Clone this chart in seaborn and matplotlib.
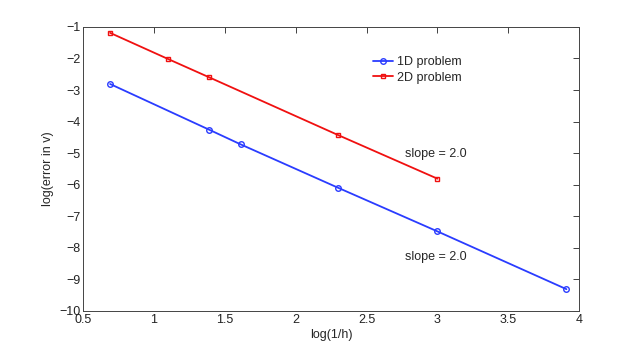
import pandas as pd
import matplotlib
matplotlib.use("Agg")
import matplotlib.pyplot as plt
import seaborn as sns

# --- data ---
x_1d = [0.69, 1.39, 1.61, 2.30, 3.00, 3.91]
err_1d = [-2.81, -4.26, -4.72, -6.10, -7.48, -9.31]

x_2d = [0.69, 1.10, 1.39, 2.30, 3.00]
err_2d = [-1.19, -2.02, -2.60, -4.43, -5.81]

labels = ["1D problem", "2D problem"]
colors = ["#2a3cff", "#f01010"]
markers = ["o", "s"]
msizes = [4, 3.5]

sns.set_style("white")
plt.rcParams["font.family"] = ["Liberation Sans", "DejaVu Sans"]

fig = plt.figure(figsize=(6.4, 3.49), dpi=100)
ax = fig.add_axes([0.130, 0.109, 0.775, 0.814])

for xs, ys, lab, c, m, ms in zip([x_1d, x_2d], [err_1d, err_2d], labels, colors, markers, msizes):
    sns.lineplot(x=xs, y=ys, color=c, marker=m, markersize=ms,
                 markerfacecolor="none", markeredgecolor=c, markeredgewidth=1.0,
                 linewidth=1.3, label=lab, ax=ax)

ax.set_xlim(0.5, 4)
ax.set_ylim(-10, -1)
ax.set_xticks([0.5, 1, 1.5, 2, 2.5, 3, 3.5, 4])
ax.set_xticklabels(["0.5", "1", "1.5", "2", "2.5", "3", "3.5", "4"])
ax.set_yticks(range(-10, 0))
ax.tick_params(direction="in", top=True, right=True, length=4, width=0.6,
               labelsize=9, colors="#222222", pad=2)
for s in ax.spines.values():
    s.set_color("#444444")
    s.set_linewidth(0.7)

ax.set_xlabel("log(1/h)", fontsize=9, labelpad=2)
ax.set_ylabel("log(error in v)", fontsize=9, labelpad=4)

ax.text(2.77, -5.02, "slope = 2.0", fontsize=9, va="center")
ax.text(2.77, -8.29, "slope = 2.0", fontsize=9, va="center")

ax.legend(loc="upper left", bbox_to_anchor=(0.575, 0.915), frameon=False,
          fontsize=9, handlelength=1.6, handletextpad=0.3,
          labelspacing=0.3, borderaxespad=0)

fig.savefig("out.png", dpi=100, facecolor="white")
